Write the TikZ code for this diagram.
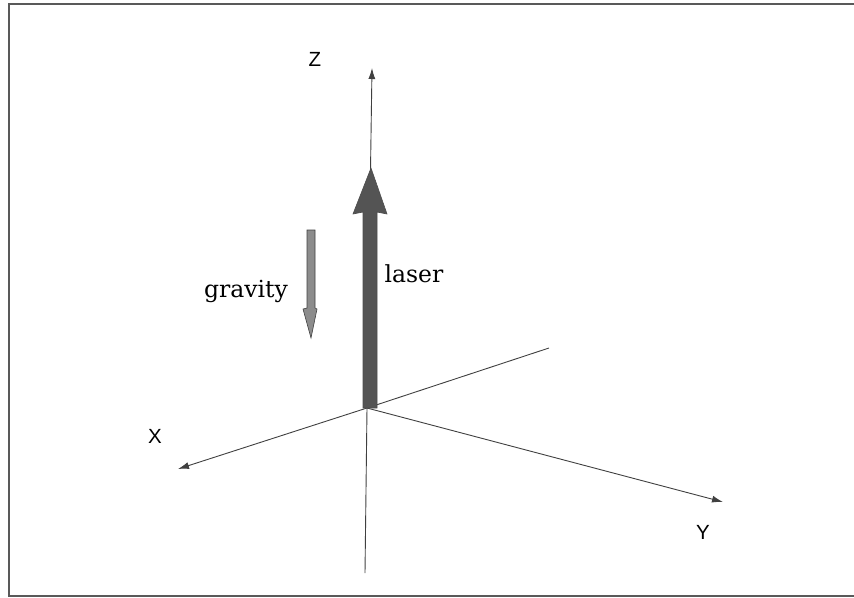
\documentclass[tikz,border=0pt]{standalone}
\usepackage{fontspec}
\setmainfont{DejaVu Serif}
\newfontfamily\axisfont{Liberation Sans}
\usetikzlibrary{arrows.meta}
\definecolor{axisgray}{gray}{0.25}
\definecolor{lasergray}{gray}{0.33}
\definecolor{gravgray}{gray}{0.55}
\tikzset{
  axis/.style={draw=axisgray, line width=0.9pt, -{Latex[length=11pt, width=7pt]}},
  axislabel/.style={font=\axisfont\fontsize{20.5}{20.5}\selectfont, inner sep=0pt},
  wordlabel/.style={font=\fontsize{23.5}{23.5}\selectfont, inner sep=0pt, anchor=base}
}
\begin{document}
\begin{tikzpicture}[x=1pt, y=-1pt]

    % Marco de la figura
    \useasboundingbox (0,0) rectangle (854,597);
    \draw[gray!70!black, line width=1.6pt] (856,4) -- (9,4) -- (9,596) -- (856,596);

    % Origen y extremos de los ejes
    \coordinate (O) at (367,408);
    \coordinate (zbot) at (365,573);
    \coordinate (ztop) at (372,68);
    \coordinate (xback) at (549,348);
    \coordinate (xend) at (178,469);
    \coordinate (yend) at (723,502);

    % Dibujar los ejes X, Y, Z
    \draw[draw=axisgray, line width=0.9pt] (zbot) -- (O);
    \draw[axis] (O) -- (ztop);
    \draw[draw=axisgray, line width=0.9pt] (xback) -- (O);
    \draw[axis] (O) -- (xend);
    \draw[axis] (O) -- (yend);

    % Flecha gruesa del laser
    \filldraw[fill=lasergray, draw=black!70, line width=0.6pt]
        (363,408) -- (363,212) -- (353,214) -- (371,168) -- (387,214)
        -- (377,212) -- (377,408) -- cycle;

    % Flecha de la gravedad
    \filldraw[fill=gravgray, draw=black!75, line width=0.6pt]
        (307,230) -- (315,230) -- (315,308) -- (317,309) -- (311,338)
        -- (303,309) -- (307,308) -- cycle;

    % Etiquetas
    \node[axislabel] (zlabel) at (315,59) {Z};
    \node[axislabel] (xlabel) at (155,436) {X};
    \node[axislabel] (ylabel) at (703,532) {Y};
    \node[wordlabel] (laser) at (414,282) {laser};
    \node[wordlabel] (gravity) at (246,297) {gravity};

\end{tikzpicture}
\end{document}
